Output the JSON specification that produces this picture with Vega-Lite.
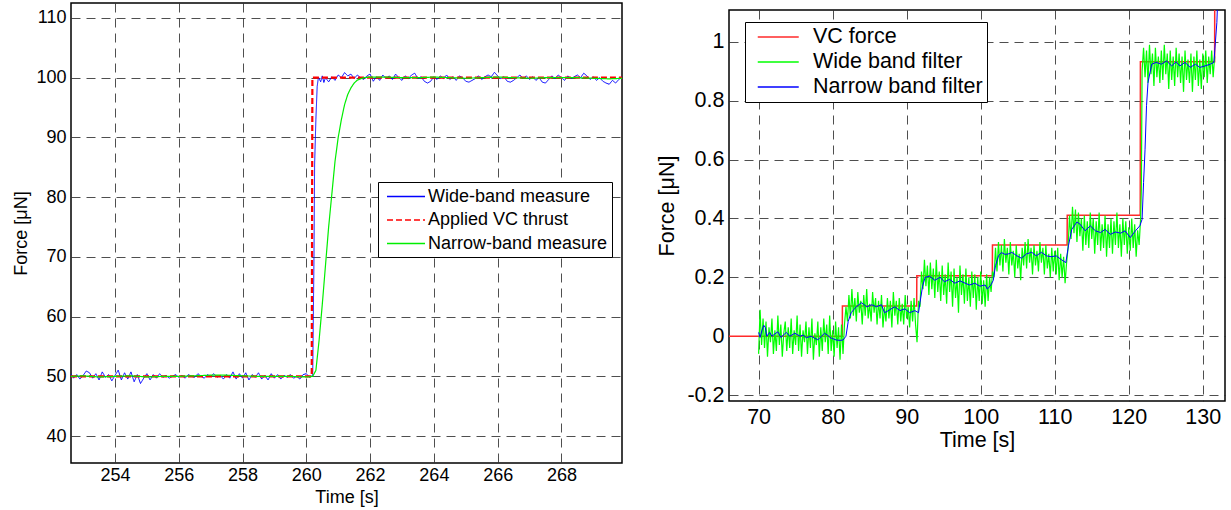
{
"$schema": "https://vega.github.io/schema/vega-lite/v6.json",
"padding": {"left": 12, "top": 2, "right": 4, "bottom": 2},
"spacing": 33,
"config": {
  "font": "Liberation Sans",
  "view": {"stroke": "black", "strokeWidth": 1.5},
  "axis": {"grid": true, "gridColor": "#222222", "gridDash": [9, 6], "gridWidth": 0.8, "gridOpacity": 1, "domain": false, "ticks": false, "labelColor": "black", "titleColor": "black", "titleFontWeight": "normal", "labelFont": "Liberation Sans", "titleFont": "Liberation Sans"},
  "legend": {"labelFont": "Liberation Sans", "labelColor": "black", "labelLimit": 0}
},
"datasets": {
  "wide": [
{"t":252.62,"f":50.45},{"t":252.7,"f":49.7},{"t":252.8,"f":50.3},{"t":252.9,"f":49.55},{"t":253.0,"f":50.15},{"t":253.1,"f":50.9},{"t":253.2,"f":50.6},{"t":253.3,"f":49.7},{"t":253.4,"f":50.45},{"t":253.5,"f":49.4},{"t":253.6,"f":50.75},{"t":253.7,"f":49.85},{"t":253.8,"f":50.3},{"t":253.9,"f":49.25},{"t":254.0,"f":50.15},{"t":254.1,"f":51.05},{"t":254.2,"f":49.4},{"t":254.3,"f":50.6},{"t":254.4,"f":49.55},{"t":254.5,"f":50.75},{"t":254.6,"f":49.1},{"t":254.7,"f":50.3},{"t":254.8,"f":48.8},{"t":254.9,"f":49.7},{"t":255.0,"f":50.45},{"t":255.1,"f":49.4},{"t":255.2,"f":50.3},{"t":255.3,"f":49.7},{"t":255.4,"f":50.45},{"t":255.5,"f":49.85},{"t":255.6,"f":50.15},{"t":255.7,"f":49.7},{"t":255.8,"f":50.0},{"t":255.9,"f":50.3},{"t":256.0,"f":49.85},{"t":256.1,"f":50.15},{"t":256.2,"f":49.7},{"t":256.3,"f":50.3},{"t":256.4,"f":50.0},{"t":256.5,"f":49.85},{"t":256.6,"f":50.45},{"t":256.7,"f":50.0},{"t":256.8,"f":49.7},{"t":256.9,"f":50.3},{"t":257.0,"f":50.0},{"t":257.1,"f":50.45},{"t":257.2,"f":49.85},{"t":257.3,"f":50.15},{"t":257.4,"f":49.55},{"t":257.5,"f":50.3},{"t":257.6,"f":49.7},{"t":257.7,"f":50.75},{"t":257.8,"f":49.55},{"t":257.9,"f":50.45},{"t":258.0,"f":49.7},{"t":258.1,"f":50.6},{"t":258.2,"f":49.4},{"t":258.3,"f":50.3},{"t":258.4,"f":49.85},{"t":258.5,"f":50.6},{"t":258.6,"f":49.55},{"t":258.7,"f":50.15},{"t":258.8,"f":49.4},{"t":258.9,"f":50.45},{"t":259.0,"f":49.7},{"t":259.1,"f":50.3},{"t":259.2,"f":49.55},{"t":259.3,"f":50.15},{"t":259.4,"f":49.85},{"t":259.5,"f":50.3},{"t":259.6,"f":49.7},{"t":259.7,"f":50.0},{"t":259.8,"f":49.55},{"t":259.9,"f":50.3},{"t":260.0,"f":50.45},{"t":260.1,"f":49.85},{"t":260.2,"f":50.15},
{"t":260.24,"f":70.0},{"t":260.26,"f":85.5},{"t":260.3,"f":93.0},{"t":260.34,"f":98.5},{"t":260.38,"f":100.1},
{"t":260.45,"f":99.3},{"t":260.5,"f":100.3},{"t":260.55,"f":99.2},{"t":260.6,"f":100.0},{"t":260.7,"f":99.3},{"t":260.8,"f":100.15},{"t":260.9,"f":99.55},{"t":261.0,"f":100.45},{"t":261.1,"f":100.0},{"t":261.2,"f":100.85},{"t":261.3,"f":100.3},{"t":261.4,"f":100.6},{"t":261.5,"f":99.85},{"t":261.6,"f":100.45},{"t":261.7,"f":100.0},{"t":261.8,"f":99.7},{"t":261.9,"f":100.3},{"t":262.0,"f":100.6},{"t":262.1,"f":99.4},{"t":262.2,"f":100.15},{"t":262.3,"f":99.55},{"t":262.4,"f":100.45},{"t":262.5,"f":99.85},{"t":262.6,"f":100.3},{"t":262.7,"f":99.7},{"t":262.8,"f":100.6},{"t":262.9,"f":100.0},{"t":263.0,"f":99.55},{"t":263.1,"f":100.3},{"t":263.2,"f":99.85},{"t":263.3,"f":100.45},{"t":263.4,"f":100.75},{"t":263.5,"f":99.85},{"t":263.6,"f":100.15},{"t":263.7,"f":99.4},{"t":263.8,"f":99.1},{"t":263.9,"f":99.4},{"t":264.0,"f":100.15},{"t":264.1,"f":99.7},{"t":264.2,"f":100.3},{"t":264.3,"f":99.85},{"t":264.4,"f":100.45},{"t":264.5,"f":99.7},{"t":264.6,"f":100.15},{"t":264.7,"f":99.55},{"t":264.8,"f":100.3},{"t":264.9,"f":100.0},{"t":265.0,"f":99.4},{"t":265.1,"f":99.25},{"t":265.2,"f":99.55},{"t":265.3,"f":99.85},{"t":265.4,"f":100.3},{"t":265.5,"f":99.7},{"t":265.6,"f":100.15},{"t":265.7,"f":100.45},{"t":265.8,"f":100.15},{"t":265.9,"f":100.9},{"t":266.0,"f":100.3},{"t":266.1,"f":99.85},{"t":266.2,"f":100.15},{"t":266.3,"f":99.4},{"t":266.4,"f":99.25},{"t":266.5,"f":99.55},{"t":266.6,"f":100.0},{"t":266.7,"f":100.45},{"t":266.8,"f":99.85},{"t":266.9,"f":100.3},{"t":267.0,"f":99.7},{"t":267.1,"f":100.15},{"t":267.2,"f":99.55},{"t":267.3,"f":100.0},{"t":267.4,"f":99.25},{"t":267.5,"f":99.1},{"t":267.6,"f":99.7},{"t":267.7,"f":100.3},{"t":267.8,"f":99.85},{"t":267.9,"f":100.45},{"t":268.0,"f":100.0},{"t":268.1,"f":99.55},{"t":268.2,"f":100.3},{"t":268.3,"f":99.85},{"t":268.4,"f":100.15},{"t":268.5,"f":100.45},{"t":268.6,"f":100.0},{"t":268.7,"f":100.75},{"t":268.8,"f":100.3},{"t":268.9,"f":99.7},{"t":269.0,"f":100.15},{"t":269.1,"f":99.55},{"t":269.2,"f":100.0},{"t":269.3,"f":99.4},{"t":269.4,"f":99.1},{"t":269.5,"f":98.9},{"t":269.6,"f":99.55},{"t":269.7,"f":99.1},{"t":269.8,"f":99.7},{"t":269.9,"f":100.15}
  ],
  "vc": [
{"t":252.62,"f":50},{"t":260.17,"f":50},{"t":260.19,"f":100},{"t":269.9,"f":100}
  ],
  "narrow": [
{"t":252.62,"f":50.0},{"t":253.0,"f":50.1},{"t":253.5,"f":49.9},{"t":254.0,"f":50.0},{"t":254.5,"f":50.1},{"t":255.0,"f":49.9},{"t":255.5,"f":50.0},{"t":256.0,"f":50.0},{"t":256.5,"f":50.1},{"t":257.0,"f":50.2},{"t":257.5,"f":50.2},{"t":258.0,"f":50.1},{"t":258.5,"f":50.0},{"t":259.0,"f":50.0},{"t":259.5,"f":50.0},{"t":260.0,"f":49.9},{"t":260.2,"f":50.0},{"t":260.3,"f":51.0},{"t":260.4,"f":56.0},{"t":260.5,"f":62.0},{"t":260.6,"f":68.5},{"t":260.7,"f":75.0},{"t":260.8,"f":80.5},{"t":260.9,"f":86.0},{"t":261.0,"f":90.0},{"t":261.1,"f":93.0},{"t":261.2,"f":95.5},{"t":261.3,"f":97.2},{"t":261.4,"f":98.3},{"t":261.5,"f":99.1},{"t":261.6,"f":99.6},{"t":261.8,"f":100.0},{"t":262.0,"f":100.1},{"t":262.5,"f":100.1},{"t":263.0,"f":100.0},{"t":263.5,"f":100.0},{"t":264.0,"f":100.1},{"t":264.5,"f":100.0},{"t":265.0,"f":99.9},{"t":265.5,"f":100.0},{"t":266.0,"f":100.1},{"t":266.5,"f":100.0},{"t":267.0,"f":99.9},{"t":267.5,"f":100.0},{"t":268.0,"f":100.0},{"t":268.5,"f":100.0},{"t":269.0,"f":99.9},{"t":269.5,"f":99.8},{"t":269.9,"f":99.9}
  ],
  "vcR": [
{"t":66,"f":0},{"t":81.3,"f":0},{"t":81.32,"f":0.103},{"t":91.35,"f":0.103},{"t":91.37,"f":0.205},{"t":101.57,"f":0.205},{"t":101.59,"f":0.31},{"t":111.67,"f":0.31},{"t":111.69,"f":0.411},{"t":121.55,"f":0.411},{"t":121.57,"f":0.932},{"t":131.6,"f":0.932},{"t":131.62,"f":1.3}
  ],
  "wideR": [
{"t":70.0,"f":-0.06},{"t":70.2,"f":0.09},{"t":70.4,"f":-0.03},{"t":70.6,"f":0.06},{"t":70.8,"f":-0.04},{"t":71.0,"f":0.05},{"t":71.2,"f":-0.07},{"t":71.4,"f":0.03},{"t":71.6,"f":-0.02},{"t":71.8,"f":0.06},{"t":72.0,"f":-0.06},{"t":72.2,"f":0.02},{"t":72.4,"f":-0.05},{"t":72.6,"f":0.07},{"t":72.8,"f":-0.03},{"t":73.0,"f":0.04},{"t":73.2,"f":-0.07},{"t":73.4,"f":0.01},{"t":73.6,"f":0.05},{"t":73.8,"f":-0.05},{"t":74.0,"f":0.03},{"t":74.2,"f":-0.04},{"t":74.4,"f":0.06},{"t":74.6,"f":-0.06},{"t":74.8,"f":0.02},{"t":75.0,"f":-0.03},{"t":75.2,"f":0.07},{"t":75.4,"f":-0.05},{"t":75.6,"f":0.04},{"t":75.8,"f":-0.07},{"t":76.0,"f":0.02},{"t":76.2,"f":-0.02},{"t":76.4,"f":0.05},{"t":76.6,"f":-0.06},{"t":76.8,"f":0.03},{"t":77.0,"f":-0.04},{"t":77.2,"f":0.06},{"t":77.4,"f":-0.08},{"t":77.6,"f":0.01},{"t":77.8,"f":-0.03},{"t":78.0,"f":0.05},{"t":78.2,"f":-0.07},{"t":78.4,"f":0.03},{"t":78.6,"f":-0.05},{"t":78.8,"f":0.06},{"t":79.0,"f":-0.02},{"t":79.2,"f":0.04},{"t":79.4,"f":-0.06},{"t":79.6,"f":0.07},{"t":79.8,"f":-0.05},{"t":80.0,"f":0.02},{"t":80.2,"f":-0.07},{"t":80.4,"f":0.05},{"t":80.6,"f":-0.04},{"t":80.8,"f":0.03},{"t":81.0,"f":-0.08},{"t":81.2,"f":0.04},{"t":81.4,"f":-0.06},
{"t":81.6,"f":0.04},{"t":81.8,"f":0.1},{"t":82.0,"f":0.05},{"t":82.2,"f":0.14},{"t":82.4,"f":0.06},{"t":82.6,"f":0.16},{"t":82.8,"f":0.07},{"t":83.0,"f":0.13},{"t":83.2,"f":0.05},{"t":83.4,"f":0.15},{"t":83.6,"f":0.08},{"t":83.8,"f":0.12},{"t":84.0,"f":0.04},{"t":84.2,"f":0.14},{"t":84.4,"f":0.07},{"t":84.6,"f":0.16},{"t":84.8,"f":0.06},{"t":85.0,"f":0.11},{"t":85.2,"f":0.05},{"t":85.4,"f":0.15},{"t":85.6,"f":0.08},{"t":85.8,"f":0.13},{"t":86.0,"f":0.04},{"t":86.2,"f":0.12},{"t":86.4,"f":0.06},{"t":86.6,"f":0.14},{"t":86.8,"f":0.03},{"t":87.0,"f":0.1},{"t":87.2,"f":0.05},{"t":87.4,"f":0.13},{"t":87.6,"f":0.06},{"t":87.8,"f":0.12},{"t":88.0,"f":0.03},{"t":88.2,"f":0.15},{"t":88.4,"f":0.07},{"t":88.6,"f":0.12},{"t":88.8,"f":0.04},{"t":89.0,"f":0.13},{"t":89.2,"f":0.05},{"t":89.4,"f":0.11},{"t":89.6,"f":0.04},{"t":89.8,"f":0.14},{"t":90.0,"f":0.06},{"t":90.2,"f":0.1},{"t":90.4,"f":0.03},{"t":90.6,"f":0.12},{"t":90.8,"f":0.05},{"t":91.0,"f":0.13},{"t":91.2,"f":0.04},{"t":91.4,"f":-0.02},
{"t":91.6,"f":0.12},{"t":91.8,"f":0.1},{"t":92.0,"f":0.22},{"t":92.2,"f":0.16},{"t":92.4,"f":0.26},{"t":92.6,"f":0.17},{"t":92.8,"f":0.24},{"t":93.0,"f":0.14},{"t":93.2,"f":0.25},{"t":93.4,"f":0.16},{"t":93.6,"f":0.23},{"t":93.8,"f":0.13},{"t":94.0,"f":0.26},{"t":94.2,"f":0.15},{"t":94.4,"f":0.22},{"t":94.6,"f":0.12},{"t":94.8,"f":0.24},{"t":95.0,"f":0.14},{"t":95.2,"f":0.21},{"t":95.4,"f":0.11},{"t":95.6,"f":0.25},{"t":95.8,"f":0.15},{"t":96.0,"f":0.22},{"t":96.2,"f":0.1},{"t":96.4,"f":0.23},{"t":96.6,"f":0.13},{"t":96.8,"f":0.2},{"t":97.0,"f":0.08},{"t":97.2,"f":0.24},{"t":97.4,"f":0.14},{"t":97.6,"f":0.21},{"t":97.8,"f":0.11},{"t":98.0,"f":0.23},{"t":98.2,"f":0.12},{"t":98.4,"f":0.2},{"t":98.6,"f":0.1},{"t":98.8,"f":0.22},{"t":99.0,"f":0.13},{"t":99.2,"f":0.21},{"t":99.4,"f":0.09},{"t":99.6,"f":0.2},{"t":99.8,"f":0.12},{"t":100.0,"f":0.22},{"t":100.2,"f":0.11},{"t":100.4,"f":0.19},{"t":100.6,"f":0.1},{"t":100.8,"f":0.21},{"t":101.0,"f":0.12},{"t":101.2,"f":0.2},{"t":101.4,"f":0.15},{"t":101.6,"f":0.22},
{"t":101.8,"f":0.2},{"t":102.0,"f":0.3},{"t":102.2,"f":0.22},{"t":102.4,"f":0.32},{"t":102.6,"f":0.24},{"t":102.8,"f":0.31},{"t":103.0,"f":0.22},{"t":103.2,"f":0.33},{"t":103.4,"f":0.25},{"t":103.6,"f":0.3},{"t":103.8,"f":0.21},{"t":104.0,"f":0.32},{"t":104.2,"f":0.24},{"t":104.4,"f":0.29},{"t":104.6,"f":0.2},{"t":104.8,"f":0.31},{"t":105.0,"f":0.23},{"t":105.2,"f":0.28},{"t":105.4,"f":0.19},{"t":105.6,"f":0.3},{"t":105.8,"f":0.24},{"t":106.0,"f":0.32},{"t":106.2,"f":0.23},{"t":106.4,"f":0.33},{"t":106.6,"f":0.25},{"t":106.8,"f":0.3},{"t":107.0,"f":0.21},{"t":107.2,"f":0.31},{"t":107.4,"f":0.24},{"t":107.6,"f":0.29},{"t":107.8,"f":0.22},{"t":108.0,"f":0.32},{"t":108.2,"f":0.25},{"t":108.4,"f":0.3},{"t":108.6,"f":0.21},{"t":108.8,"f":0.31},{"t":109.0,"f":0.23},{"t":109.2,"f":0.28},{"t":109.4,"f":0.2},{"t":109.6,"f":0.3},{"t":109.8,"f":0.22},{"t":110.0,"f":0.29},{"t":110.2,"f":0.21},{"t":110.4,"f":0.3},{"t":110.6,"f":0.19},{"t":110.8,"f":0.28},{"t":111.0,"f":0.2},{"t":111.2,"f":0.27},{"t":111.4,"f":0.18},{"t":111.6,"f":0.25},
{"t":111.8,"f":0.3},{"t":112.0,"f":0.41},{"t":112.2,"f":0.33},{"t":112.4,"f":0.44},{"t":112.6,"f":0.35},{"t":112.8,"f":0.43},{"t":113.0,"f":0.32},{"t":113.2,"f":0.42},{"t":113.4,"f":0.34},{"t":113.6,"f":0.4},{"t":113.8,"f":0.29},{"t":114.0,"f":0.41},{"t":114.2,"f":0.31},{"t":114.4,"f":0.39},{"t":114.6,"f":0.3},{"t":114.8,"f":0.42},{"t":115.0,"f":0.33},{"t":115.2,"f":0.4},{"t":115.4,"f":0.28},{"t":115.6,"f":0.39},{"t":115.8,"f":0.31},{"t":116.0,"f":0.42},{"t":116.2,"f":0.29},{"t":116.4,"f":0.38},{"t":116.6,"f":0.3},{"t":116.8,"f":0.41},{"t":117.0,"f":0.27},{"t":117.2,"f":0.38},{"t":117.4,"f":0.3},{"t":117.6,"f":0.4},{"t":117.8,"f":0.28},{"t":118.0,"f":0.39},{"t":118.2,"f":0.31},{"t":118.4,"f":0.42},{"t":118.6,"f":0.3},{"t":118.8,"f":0.38},{"t":119.0,"f":0.27},{"t":119.2,"f":0.4},{"t":119.4,"f":0.31},{"t":119.6,"f":0.39},{"t":119.8,"f":0.28},{"t":120.0,"f":0.37},{"t":120.2,"f":0.29},{"t":120.4,"f":0.4},{"t":120.6,"f":0.3},{"t":120.8,"f":0.38},{"t":121.0,"f":0.27},{"t":121.2,"f":0.36},{"t":121.4,"f":0.31},{"t":121.6,"f":0.4},{"t":121.7,"f":0.5},
{"t":121.8,"f":0.9},{"t":122.0,"f":0.98},{"t":122.2,"f":0.88},{"t":122.4,"f":0.97},{"t":122.6,"f":0.86},{"t":122.8,"f":0.99},{"t":123.0,"f":0.89},{"t":123.2,"f":0.96},{"t":123.4,"f":0.85},{"t":123.6,"f":0.98},{"t":123.8,"f":0.88},{"t":124.0,"f":0.95},{"t":124.2,"f":0.86},{"t":124.4,"f":0.97},{"t":124.6,"f":0.87},{"t":124.8,"f":0.99},{"t":125.0,"f":0.89},{"t":125.2,"f":0.96},{"t":125.4,"f":0.84},{"t":125.6,"f":0.97},{"t":125.8,"f":0.87},{"t":126.0,"f":0.95},{"t":126.2,"f":0.85},{"t":126.4,"f":0.98},{"t":126.6,"f":0.88},{"t":126.8,"f":0.96},{"t":127.0,"f":0.86},{"t":127.2,"f":0.95},{"t":127.4,"f":0.83},{"t":127.6,"f":0.97},{"t":127.8,"f":0.87},{"t":128.0,"f":0.94},{"t":128.2,"f":0.86},{"t":128.4,"f":0.96},{"t":128.6,"f":0.83},{"t":128.8,"f":0.95},{"t":129.0,"f":0.87},{"t":129.2,"f":0.97},{"t":129.4,"f":0.85},{"t":129.6,"f":0.94},{"t":129.8,"f":0.84},{"t":130.0,"f":0.96},{"t":130.2,"f":0.88},{"t":130.4,"f":0.97},{"t":130.6,"f":0.86},{"t":130.8,"f":0.95},{"t":131.0,"f":0.89},{"t":131.2,"f":0.97},{"t":131.4,"f":0.88},{"t":131.6,"f":0.95}
  ],
  "narrowR": [
{"t":70.0,"f":0.013},{"t":70.2,"f":-0.004},{"t":70.45,"f":0.02},{"t":70.7,"f":0.037},{"t":70.9,"f":0.03},{"t":71.1,"f":0.0},{"t":71.5,"f":0.013},{"t":71.8,"f":0.0},{"t":72.2,"f":0.008},{"t":72.6,"f":0.015},{"t":73.0,"f":-0.004},{"t":73.4,"f":0.005},{"t":73.75,"f":0.013},{"t":74.2,"f":0.0},{"t":74.9,"f":0.01},{"t":75.6,"f":0.0},{"t":76.0,"f":0.004},{"t":76.45,"f":-0.005},{"t":77.1,"f":0.0},{"t":77.5,"f":-0.006},{"t":78.0,"f":-0.012},{"t":78.5,"f":0.0},{"t":78.9,"f":0.01},{"t":79.3,"f":0.004},{"t":79.6,"f":-0.004},{"t":80.0,"f":-0.008},{"t":80.5,"f":-0.013},{"t":81.0,"f":-0.014},{"t":81.4,"f":-0.013},{"t":81.8,"f":0.0},{"t":82.1,"f":0.05},{"t":82.5,"f":0.08},{"t":82.85,"f":0.09},{"t":83.2,"f":0.1},{"t":83.9,"f":0.114},{"t":84.6,"f":0.1},{"t":85.3,"f":0.107},{"t":85.9,"f":0.1},{"t":86.6,"f":0.107},{"t":87.0,"f":0.08},{"t":87.4,"f":0.085},{"t":87.7,"f":0.09},{"t":88.4,"f":0.1},{"t":89.1,"f":0.087},{"t":89.75,"f":0.093},{"t":90.4,"f":0.08},{"t":91.1,"f":0.087},{"t":91.6,"f":0.08},{"t":91.8,"f":0.114},{"t":92.15,"f":0.17},{"t":92.5,"f":0.2},{"t":93.1,"f":0.204},{"t":93.8,"f":0.19},{"t":94.5,"f":0.2},{"t":95.1,"f":0.185},{"t":95.8,"f":0.193},{"t":96.5,"f":0.18},{"t":97.2,"f":0.188},{"t":97.9,"f":0.18},{"t":98.5,"f":0.174},{"t":99.2,"f":0.18},{"t":99.9,"f":0.17},{"t":100.6,"f":0.174},{"t":100.9,"f":0.16},{"t":101.4,"f":0.175},{"t":101.7,"f":0.19},{"t":102.0,"f":0.24},{"t":102.4,"f":0.273},{"t":102.8,"f":0.284},{"t":103.3,"f":0.278},{"t":103.8,"f":0.28},{"t":104.2,"f":0.285},{"t":104.9,"f":0.273},{"t":105.5,"f":0.265},{"t":106.2,"f":0.28},{"t":106.9,"f":0.285},{"t":107.5,"f":0.273},{"t":108.2,"f":0.285},{"t":108.9,"f":0.273},{"t":109.5,"f":0.27},{"t":110.2,"f":0.273},{"t":110.9,"f":0.26},{"t":111.5,"f":0.25},{"t":111.85,"f":0.307},{"t":112.3,"f":0.363},{"t":113.0,"f":0.388},{"t":113.4,"f":0.381},{"t":114.1,"f":0.358},{"t":114.8,"f":0.375},{"t":115.5,"f":0.358},{"t":116.2,"f":0.352},{"t":116.8,"f":0.363},{"t":117.5,"f":0.346},{"t":118.2,"f":0.354},{"t":118.9,"f":0.35},{"t":119.5,"f":0.358},{"t":120.2,"f":0.335},{"t":120.9,"f":0.358},{"t":121.5,"f":0.375},{"t":121.8,"f":0.397},{"t":122.0,"f":0.522},{"t":122.2,"f":0.635},{"t":122.4,"f":0.783},{"t":122.6,"f":0.862},{"t":123.1,"f":0.924},{"t":123.7,"f":0.93},{"t":124.4,"f":0.924},{"t":125.1,"f":0.935},{"t":125.8,"f":0.918},{"t":126.4,"f":0.932},{"t":126.9,"f":0.918},{"t":127.6,"f":0.93},{"t":128.3,"f":0.913},{"t":129.0,"f":0.924},{"t":129.6,"f":0.913},{"t":130.3,"f":0.918},{"t":131.0,"f":0.924},{"t":131.5,"f":0.93},{"t":131.7,"f":0.998},{"t":131.9,"f":1.065},{"t":132.1,"f":1.2}
  ],
  "spacer": [{"a": 0}]
},
"resolve": {"scale": {"color": "independent", "strokeDash": "independent", "x": "independent", "y": "independent"}, "legend": {"color": "independent", "strokeDash": "independent"}},
"hconcat": [
 {
  "width": 551, "height": 460,
  "encoding": {
    "x": {"field": "t", "type": "quantitative", "scale": {"domain": [252.62, 269.9], "nice": false, "zero": false}, "axis": {"values": [254, 256, 258, 260, 262, 264, 266, 268], "title": "Time [s]", "labelFontSize": 18, "titleFontSize": 18, "labelPadding": 3, "titlePadding": 4}},
    "y": {"field": "f", "type": "quantitative", "scale": {"domain": [35.5, 112.5], "nice": false, "zero": false}, "axis": {"values": [40, 50, 60, 70, 80, 90, 100, 110], "title": "Force [μN]", "labelFontSize": 18, "titleFontSize": 18, "labelPadding": 5, "titlePadding": 5}}
  },
  "layer": [
    {"data": {"name": "wide"}, "mark": {"type": "line", "strokeWidth": 1, "clip": true},
     "encoding": {
       "color": {"datum": "Wide-band measure", "type": "nominal", "scale": {"domain": ["Wide-band measure", "Applied VC thrust", "Narrow-band measure"], "range": ["#0000ff", "#ff0000", "#00ee00"]},
         "legend": {"title": null, "orient": "none", "legendX": 307, "legendY": 179, "fillColor": "white", "strokeColor": "black", "padding": 4, "symbolOffset": 4, "symbolType": "M-1,0H3", "symbolSize": 361, "symbolStrokeWidth": 1.5, "labelFontSize": 18, "labelOffset": 21, "rowPadding": 3.5}},
       "strokeDash": {"datum": "Wide-band measure", "type": "nominal", "scale": {"domain": ["Wide-band measure", "Applied VC thrust", "Narrow-band measure"], "range": [[1, 0], [6, 3], [1, 0]]}, "legend": null}
     }},
    {"data": {"name": "vc"}, "mark": {"type": "line", "strokeWidth": 2.2, "clip": true},
     "encoding": {
       "color": {"datum": "Applied VC thrust", "type": "nominal"},
       "strokeDash": {"datum": "Applied VC thrust", "type": "nominal"}
     }},
    {"data": {"name": "narrow"}, "mark": {"type": "line", "strokeWidth": 1.2, "clip": true},
     "encoding": {
       "color": {"datum": "Narrow-band measure", "type": "nominal"},
       "strokeDash": {"datum": "Narrow-band measure", "type": "nominal"}
     }}
  ]
 },
 {
  "spacing": 5,
  "vconcat": [
   {
    "width": 496, "height": 1,
    "view": {"stroke": null},
    "data": {"name": "spacer"},
    "mark": {"type": "point", "opacity": 0, "size": 0},
    "encoding": {}
   },
   {
    "width": 496, "height": 391,
    "encoding": {
      "x": {"field": "t", "type": "quantitative", "scale": {"domain": [66, 133], "nice": false, "zero": false}, "axis": {"values": [70, 80, 90, 100, 110, 120, 130], "title": "Time [s]", "labelFontSize": 21.5, "titleFontSize": 21.5, "labelPadding": 5, "titlePadding": 2}},
      "y": {"field": "f", "type": "quantitative", "scale": {"domain": [-0.22, 1.108], "nice": false, "zero": false}, "axis": {"values": [-0.2, 0, 0.2, 0.4, 0.6, 0.8, 1], "labelExpr": "datum.value < 0 ? '-' + format(-datum.value, '~g') : format(datum.value, '~g')", "title": "Force [μN]", "labelFontSize": 21.5, "titleFontSize": 21.5, "labelPadding": 5, "titlePadding": 8}}
    },
    "layer": [
      {"data": {"name": "vcR"}, "mark": {"type": "line", "strokeWidth": 1.5, "clip": true},
       "encoding": {
         "color": {"datum": "VC force", "type": "nominal", "scale": {"domain": ["VC force", "Wide band filter", "Narrow band filter"], "range": ["#ff2a2a", "#00ff00", "#0000ff"]},
           "legend": {"title": null, "orient": "none", "legendX": 16, "legendY": 19, "fillColor": "white", "strokeColor": "black", "padding": 4, "symbolOffset": 8, "symbolType": "M-1,0H3", "symbolSize": 420, "symbolStrokeWidth": 1.5, "labelFontSize": 21.5, "labelOffset": 34, "rowPadding": 3}}
       }},
      {"data": {"name": "wideR"}, "mark": {"type": "line", "strokeWidth": 1.2, "clip": true},
       "encoding": {"color": {"datum": "Wide band filter", "type": "nominal"}}},
      {"data": {"name": "narrowR"}, "mark": {"type": "line", "strokeWidth": 1, "clip": true},
       "encoding": {"color": {"datum": "Narrow band filter", "type": "nominal"}}}
    ]
   }
  ]
 }
]
}
